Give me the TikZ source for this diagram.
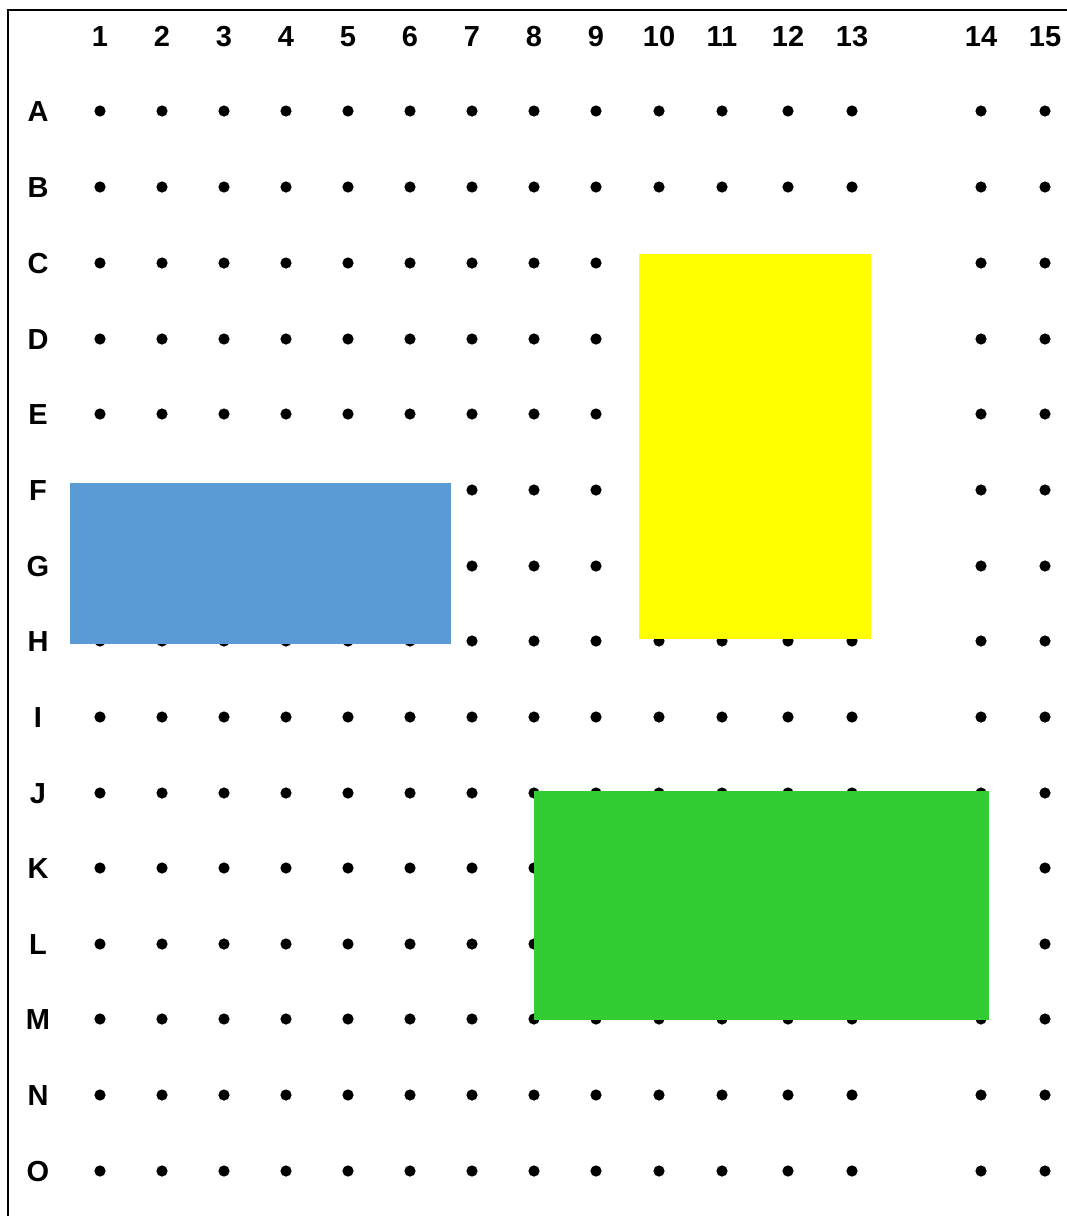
\documentclass[tikz,border=0pt]{standalone}
\usepackage{fontspec}
\setmainfont{Liberation Sans}
\begin{document}
\begin{tikzpicture}[x=1pt,y=-1pt,
  lbl/.style={font=\bfseries\fontsize{29}{30}\selectfont, inner sep=0pt, anchor=base},
  dotmark/.style={fill=black},
  block/.style={draw=none}]
\useasboundingbox (0,0) rectangle (1067,1216);
\definecolor{blueblock}{HTML}{5B9BD5}
\definecolor{yellowblock}{HTML}{FFFF00}
\definecolor{greenblock}{HTML}{33CC33}
% frame
\draw[line width=2.5pt] (8,1216) -- (8,10) -- (1067,10);
% column labels and positions
\def\colxs{1/100,2/162,3/224,4/286,5/348,6/410,7/472,8/534,9/596,10/659,11/722,12/788,13/852,14/981,15/1045}
\def\rowys{A/111,B/187,C/263,D/339,E/414,F/490,G/566,H/641,I/717,J/793,K/868,L/944,M/1019,N/1095,O/1171}
\foreach \c/\x in \colxs {
  \node[lbl] (col\c) at (\x,46) {\c};
}
\foreach \r/\y in \rowys {
  \node[lbl] (row\r) at (38,\y+10.5) {\r};
  \foreach \c/\x in \colxs {
    \fill[dotmark] (\x,\y) circle (5.6pt);
  }
}
% blocks
\fill[blueblock] (70,483) rectangle (451,644);
\fill[yellowblock] (639,254) rectangle (871,639);
\fill[greenblock] (534,791) rectangle (989,1020);
\end{tikzpicture}
\end{document}
